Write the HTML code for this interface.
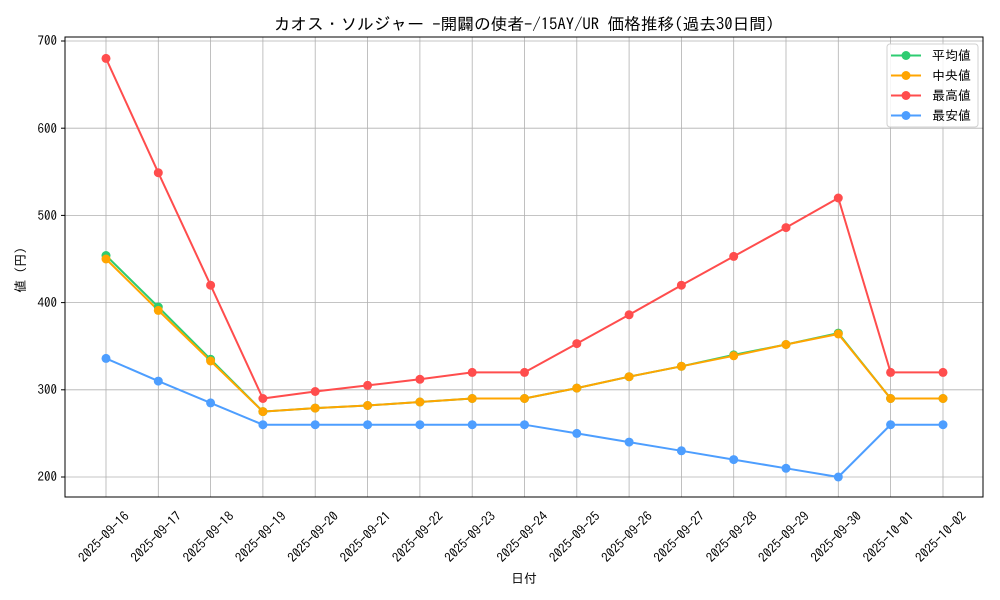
<!DOCTYPE html>
<html><head><meta charset="utf-8"><style>body{margin:0;background:#fff}svg{display:block;font-family:"IPAGothic","Noto Sans CJK JP","Liberation Sans",sans-serif}</style></head><body>
<svg width="1000" height="600" viewBox="0 0 1000 600">
<rect width="1000" height="600" fill="#fff"/>
<g stroke="#b0b0b0" stroke-width="0.8">
<line x1="106" y1="37" x2="106" y2="497"/><line x1="158.3" y1="37" x2="158.3" y2="497"/><line x1="210.6" y1="37" x2="210.6" y2="497"/><line x1="262.9" y1="37" x2="262.9" y2="497"/><line x1="315.2" y1="37" x2="315.2" y2="497"/><line x1="367.6" y1="37" x2="367.6" y2="497"/><line x1="419.9" y1="37" x2="419.9" y2="497"/><line x1="472.2" y1="37" x2="472.2" y2="497"/><line x1="524.5" y1="37" x2="524.5" y2="497"/><line x1="576.8" y1="37" x2="576.8" y2="497"/><line x1="629.1" y1="37" x2="629.1" y2="497"/><line x1="681.4" y1="37" x2="681.4" y2="497"/><line x1="733.7" y1="37" x2="733.7" y2="497"/><line x1="786" y1="37" x2="786" y2="497"/><line x1="838.3" y1="37" x2="838.3" y2="497"/><line x1="890.6" y1="37" x2="890.6" y2="497"/><line x1="943" y1="37" x2="943" y2="497"/>
<line x1="65" y1="41" x2="983" y2="41"/><line x1="65" y1="128.2" x2="983" y2="128.2"/><line x1="65" y1="215.4" x2="983" y2="215.4"/><line x1="65" y1="302.6" x2="983" y2="302.6"/><line x1="65" y1="389.8" x2="983" y2="389.8"/><line x1="65" y1="477" x2="983" y2="477"/>
</g>
<rect x="65" y="37" width="918" height="460" fill="none" stroke="#000" stroke-width="1"/>
<g stroke="#000"><line x1="61" y1="41" x2="65" y2="41"/><line x1="61" y1="128.2" x2="65" y2="128.2"/><line x1="61" y1="215.4" x2="65" y2="215.4"/><line x1="61" y1="302.6" x2="65" y2="302.6"/><line x1="61" y1="389.8" x2="65" y2="389.8"/><line x1="61" y1="477" x2="65" y2="477"/></g>
<g font-size="13" text-anchor="end" fill="#000"><text x="57" y="45">700</text><text x="57" y="133">600</text><text x="57" y="220">500</text><text x="57" y="307">400</text><text x="57" y="394">300</text><text x="57" y="481">200</text></g>
<g font-size="13" text-anchor="middle" fill="#000">
<text transform="translate(107,540) rotate(-45)">2025-09-16</text><text transform="translate(159.3,540) rotate(-45)">2025-09-17</text><text transform="translate(211.6,540) rotate(-45)">2025-09-18</text><text transform="translate(263.9,540) rotate(-45)">2025-09-19</text><text transform="translate(316.2,540) rotate(-45)">2025-09-20</text><text transform="translate(368.6,540) rotate(-45)">2025-09-21</text><text transform="translate(420.9,540) rotate(-45)">2025-09-22</text><text transform="translate(473.2,540) rotate(-45)">2025-09-23</text><text transform="translate(525.5,540) rotate(-45)">2025-09-24</text><text transform="translate(577.8,540) rotate(-45)">2025-09-25</text><text transform="translate(630.1,540) rotate(-45)">2025-09-26</text><text transform="translate(682.4,540) rotate(-45)">2025-09-27</text><text transform="translate(734.7,540) rotate(-45)">2025-09-28</text><text transform="translate(787,540) rotate(-45)">2025-09-29</text><text transform="translate(839.3,540) rotate(-45)">2025-09-30</text><text transform="translate(891.6,540) rotate(-45)">2025-10-01</text><text transform="translate(944,540) rotate(-45)">2025-10-02</text>
</g>
<text x="524" y="583" font-size="13" text-anchor="middle">日付</text>
<text transform="translate(25,270) rotate(-90)" font-size="13" text-anchor="middle">値 (円)</text>
<text x="524" y="30" font-size="16.7" text-anchor="middle">カオス・ソルジャー -開闢の使者-/15AY/UR 価格推移(過去30日間)</text>
<g fill="none" stroke-width="2">
<polyline stroke="#2ecc71" points="106,255.5 158.3,307 210.6,359.3 262.9,411.6 315.2,408.1 367.6,405.5 419.9,402 472.2,398.5 524.5,398.5 576.8,388.1 629.1,376.7 681.4,366.3 733.7,354.9 786,344.5 838.3,333.1 890.6,398.5 943,398.5"/>
<polyline stroke="#ffa500" points="106,259 158.3,310.4 210.6,361 262.9,411.6 315.2,408.1 367.6,405.5 419.9,402 472.2,398.5 524.5,398.5 576.8,388.1 629.1,376.7 681.4,366.3 733.7,355.8 786,344.5 838.3,334 890.6,398.5 943,398.5"/>
<polyline stroke="#ff4d4d" points="106,58.4 158.3,172.7 210.6,285.2 262.9,398.5 315.2,391.5 367.6,385.4 419.9,379.3 472.2,372.4 524.5,372.4 576.8,343.6 629.1,314.8 681.4,285.2 733.7,256.4 786,227.6 838.3,198 890.6,372.4 943,372.4"/>
<polyline stroke="#4d9eff" points="106,358.4 158.3,381.1 210.6,402.9 262.9,424.7 315.2,424.7 367.6,424.7 419.9,424.7 472.2,424.7 524.5,424.7 576.8,433.4 629.1,442.1 681.4,450.8 733.7,459.6 786,468.3 838.3,477 890.6,424.7 943,424.7"/>
</g>
<g fill="#2ecc71"><circle cx="106" cy="255.5" r="4.5"/><circle cx="158.3" cy="307" r="4.5"/><circle cx="210.6" cy="359.3" r="4.5"/><circle cx="262.9" cy="411.6" r="4.5"/><circle cx="315.2" cy="408.1" r="4.5"/><circle cx="367.6" cy="405.5" r="4.5"/><circle cx="419.9" cy="402" r="4.5"/><circle cx="472.2" cy="398.5" r="4.5"/><circle cx="524.5" cy="398.5" r="4.5"/><circle cx="576.8" cy="388.1" r="4.5"/><circle cx="629.1" cy="376.7" r="4.5"/><circle cx="681.4" cy="366.3" r="4.5"/><circle cx="733.7" cy="354.9" r="4.5"/><circle cx="786" cy="344.5" r="4.5"/><circle cx="838.3" cy="333.1" r="4.5"/><circle cx="890.6" cy="398.5" r="4.5"/><circle cx="943" cy="398.5" r="4.5"/></g>
<g fill="#ffa500"><circle cx="106" cy="259" r="4.5"/><circle cx="158.3" cy="310.4" r="4.5"/><circle cx="210.6" cy="361" r="4.5"/><circle cx="262.9" cy="411.6" r="4.5"/><circle cx="315.2" cy="408.1" r="4.5"/><circle cx="367.6" cy="405.5" r="4.5"/><circle cx="419.9" cy="402" r="4.5"/><circle cx="472.2" cy="398.5" r="4.5"/><circle cx="524.5" cy="398.5" r="4.5"/><circle cx="576.8" cy="388.1" r="4.5"/><circle cx="629.1" cy="376.7" r="4.5"/><circle cx="681.4" cy="366.3" r="4.5"/><circle cx="733.7" cy="355.8" r="4.5"/><circle cx="786" cy="344.5" r="4.5"/><circle cx="838.3" cy="334" r="4.5"/><circle cx="890.6" cy="398.5" r="4.5"/><circle cx="943" cy="398.5" r="4.5"/></g>
<g fill="#ff4d4d"><circle cx="106" cy="58.4" r="4.5"/><circle cx="158.3" cy="172.7" r="4.5"/><circle cx="210.6" cy="285.2" r="4.5"/><circle cx="262.9" cy="398.5" r="4.5"/><circle cx="315.2" cy="391.5" r="4.5"/><circle cx="367.6" cy="385.4" r="4.5"/><circle cx="419.9" cy="379.3" r="4.5"/><circle cx="472.2" cy="372.4" r="4.5"/><circle cx="524.5" cy="372.4" r="4.5"/><circle cx="576.8" cy="343.6" r="4.5"/><circle cx="629.1" cy="314.8" r="4.5"/><circle cx="681.4" cy="285.2" r="4.5"/><circle cx="733.7" cy="256.4" r="4.5"/><circle cx="786" cy="227.6" r="4.5"/><circle cx="838.3" cy="198" r="4.5"/><circle cx="890.6" cy="372.4" r="4.5"/><circle cx="943" cy="372.4" r="4.5"/></g>
<g fill="#4d9eff"><circle cx="106" cy="358.4" r="4.5"/><circle cx="158.3" cy="381.1" r="4.5"/><circle cx="210.6" cy="402.9" r="4.5"/><circle cx="262.9" cy="424.7" r="4.5"/><circle cx="315.2" cy="424.7" r="4.5"/><circle cx="367.6" cy="424.7" r="4.5"/><circle cx="419.9" cy="424.7" r="4.5"/><circle cx="472.2" cy="424.7" r="4.5"/><circle cx="524.5" cy="424.7" r="4.5"/><circle cx="576.8" cy="433.4" r="4.5"/><circle cx="629.1" cy="442.1" r="4.5"/><circle cx="681.4" cy="450.8" r="4.5"/><circle cx="733.7" cy="459.6" r="4.5"/><circle cx="786" cy="468.3" r="4.5"/><circle cx="838.3" cy="477" r="4.5"/><circle cx="890.6" cy="424.7" r="4.5"/><circle cx="943" cy="424.7" r="4.5"/></g>
<rect x="887" y="44" width="91" height="83" rx="3" fill="#fff" fill-opacity="0.85" stroke="#d0d0d0"/>
<g stroke-width="2"><line x1="891" y1="55.5" x2="921" y2="55.5" stroke="#2ecc71"/><line x1="891" y1="75.5" x2="921" y2="75.5" stroke="#ffa500"/><line x1="891" y1="95.5" x2="921" y2="95.5" stroke="#ff4d4d"/><line x1="891" y1="115.5" x2="921" y2="115.5" stroke="#4d9eff"/></g>
<circle cx="906" cy="55.5" r="4.5" fill="#2ecc71"/><circle cx="906" cy="75.5" r="4.5" fill="#ffa500"/><circle cx="906" cy="95.5" r="4.5" fill="#ff4d4d"/><circle cx="906" cy="115.5" r="4.5" fill="#4d9eff"/>
<g font-size="13"><text x="932" y="60">平均値</text><text x="932" y="80"> 中央値</text><text x="932" y="100">最高値</text><text x="932" y="120">最安値</text></g>
</svg>
</body></html>
